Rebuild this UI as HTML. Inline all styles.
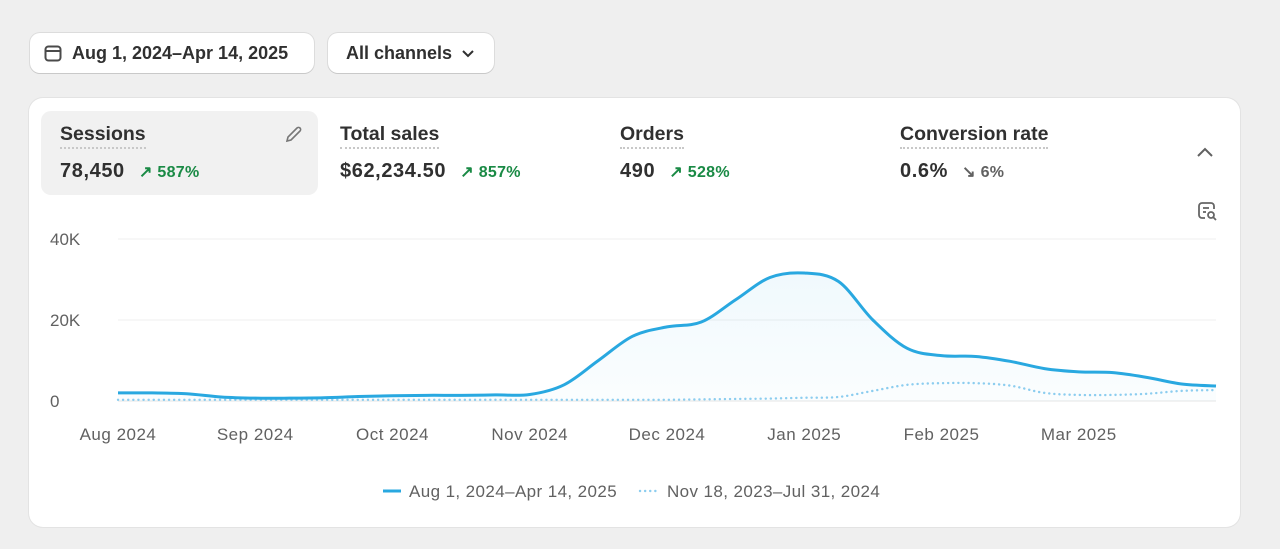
<!DOCTYPE html>
<html><head><meta charset="utf-8">
<style>
*{box-sizing:border-box;margin:0;padding:0}
body{width:1280px;height:549px;background:#efefef;font-family:"Liberation Sans",sans-serif;color:#303030;position:relative;overflow:hidden}
.btn{position:absolute;top:33px;height:40px;background:#fff;border-radius:10px;box-shadow:0 1px 0 #c9c9c9,0 0 0 1px #dcdcdc;font-size:18px;font-weight:bold;display:flex;align-items:center;color:#303030}
.card{position:absolute;left:29px;top:98px;width:1211px;height:429px;background:#fff;border-radius:14px;box-shadow:0 0 0 1px #e3e3e3}
.metric{position:absolute;top:13px;height:84px;width:277px;border-radius:10px;padding:12px 19px}
.metric.sel{background:#f1f1f1}
.mt{font-size:19.5px;font-weight:bold;color:#303030;display:inline-block;border-bottom:2px dotted #c8c8c8;padding-bottom:1px}
.mv{margin-top:11px;font-size:20px;font-weight:bold;color:#303030;letter-spacing:0.6px}
.up{color:#1a8a45;font-size:16px;font-weight:bold;margin-left:8px;letter-spacing:0.3px}
.dn{color:#616161;font-size:16px;font-weight:bold;margin-left:8px;letter-spacing:0.3px}
</style></head><body>
<div class="btn" style="left:30px;width:284px;padding-left:13px">
<svg width="20" height="20" viewBox="0 0 20 20" style="margin-right:9px"><rect x="2.5" y="3.5" width="15" height="14" rx="3" fill="none" stroke="#4a4a4a" stroke-width="2"/><line x1="2.5" y1="8" x2="17.5" y2="8" stroke="#4a4a4a" stroke-width="2"/></svg>
<span>Aug 1, 2024–Apr 14, 2025</span></div>
<div class="btn" style="left:328px;width:166px;padding-left:18px">
<span>All channels</span>
<svg width="14" height="10" viewBox="0 0 14 10" style="margin-left:9px"><path d="M2 3l5 5 5-5" fill="none" stroke="#303030" stroke-width="2"/></svg></div>

<div class="card">
<div class="metric sel" style="left:12px">
<div class="mt">Sessions</div>
<div class="mv">78,450 <span class="up">↗ 587%</span></div>
<svg width="22" height="22" viewBox="0 0 22 22" style="position:absolute;right:14px;top:13px"><path d="M5 17l1-4 9-9a2 2 0 013 3l-9 9z" fill="none" stroke="#777" stroke-width="1.6"/></svg>
</div>
<div class="metric" style="left:292px">
<div class="mt">Total sales</div>
<div class="mv">$62,234.50 <span class="up">↗ 857%</span></div></div>
<div class="metric" style="left:572px">
<div class="mt">Orders</div>
<div class="mv">490 <span class="up">↗ 528%</span></div></div>
<div class="metric" style="left:852px">
<div class="mt">Conversion rate</div>
<div class="mv">0.6% <span class="dn">↘ 6%</span></div></div>
<svg width="18" height="12" viewBox="0 0 18 12" style="position:absolute;left:1167px;top:49px"><path d="M2 9l7-7 7 7" fill="none" stroke="#616161" stroke-width="2"/></svg>
<svg width="22" height="22" viewBox="0 0 22 22" style="position:absolute;left:1167px;top:102px"><path d="M9 18H6a3 3 0 01-3-3V6a3 3 0 013-3h9a3 3 0 013 3v3" fill="none" stroke="#666" stroke-width="1.8"/><line x1="7" y1="8" x2="13" y2="8" stroke="#666" stroke-width="1.8"/><line x1="7" y1="12" x2="10" y2="12" stroke="#666" stroke-width="1.8"/><circle cx="15" cy="15" r="3" fill="none" stroke="#666" stroke-width="1.8"/><line x1="17" y1="17" x2="20" y2="20" stroke="#666" stroke-width="1.8"/></svg>
</div>

<svg id="chart" width="1280" height="549" style="position:absolute;left:0;top:0"></svg>
<script>
const yTicks=[0,20000,40000];
const yTickLabels=["0","20K","40K"];
const monthLabels=["Aug 2024","Sep 2024","Oct 2024","Nov 2024","Dec 2024","Jan 2025","Feb 2025","Mar 2025"];
const currentSeries=[2000,2000,1800,1000,700,700,800,1100,1300,1400,1400,1500,1600,4000,10000,16000,18300,19500,25000,30500,31600,29500,20000,13000,11200,11000,9800,8000,7200,7000,5800,4200,3700];
const previousSeries=[300,300,300,300,300,300,300,300,300,300,300,300,300,300,300,300,300,400,500,600,800,1000,2500,4000,4400,4400,3800,2000,1500,1500,1800,2500,2700];
const legendLabels=["Aug 1, 2024–Apr 14, 2025","Nov 18, 2023–Jul 31, 2024"];

const NS="http://www.w3.org/2000/svg";
const svg=document.getElementById('chart');
const X0=118,X1=1216,Y0=401,Y1=239,YMAX=40000;
const xs=i=>X0+i*(X1-X0)/(currentSeries.length-1);
const ys=v=>Y0-v/YMAX*(Y0-Y1);
function mk(t,a){const e=document.createElementNS(NS,t);for(const k in a)e.setAttribute(k,a[k]);svg.appendChild(e);return e;}
yTicks.forEach((v,i)=>{
 const l=mk('line',{x1:X0,x2:X1,y1:ys(v),y2:ys(v),stroke:i==0?'#e6e6e6':'#efefef','stroke-width':1});
 
 
 const t=mk('text',{x:50,y:ys(v)+6,'font-size':17,fill:'#616161','font-family':'Liberation Sans'});
 t.textContent=yTickLabels[i];
 
 
});
monthLabels.forEach((m,k)=>{
 const t=mk('text',{x:xs(k*4),y:440,'font-size':17,fill:'#616161','text-anchor':'middle','font-family':'Liberation Sans','letter-spacing':0.5});
 t.textContent=m;
 
 
});
function pathD(arr){
 const p=arr.map((v,i)=>[xs(i),ys(v)]);
 let d='M'+p[0][0]+','+p[0][1];
 for(let i=0;i<p.length-1;i++){
  const p0=p[Math.max(i-1,0)],p1=p[i],p2=p[i+1],p3=p[Math.min(i+2,p.length-1)];
  const c1=[p1[0]+(p2[0]-p0[0])/6,p1[1]+(p2[1]-p0[1])/6];
  const c2=[p2[0]-(p3[0]-p1[0])/6,p2[1]-(p3[1]-p1[1])/6];
  d+=' C'+c1+' '+c2+' '+p2;
 }
 return d;
}
const defs=mk('defs',{});
defs.innerHTML='<linearGradient id="g" x1="0" y1="0" x2="0" y2="1"><stop offset="0" stop-color="#29a8e0" stop-opacity="0.07"/><stop offset="1" stop-color="#29a8e0" stop-opacity="0.02"/></linearGradient>';
const area=mk('path',{d:pathD(currentSeries)+' L'+X1+','+Y0+' L'+X0+','+Y0+' Z',fill:'url(#g)'});


const prev=mk('path',{d:pathD(previousSeries),fill:'none',stroke:'#8ccdef','stroke-width':2.4,'stroke-dasharray':'0.1 5','stroke-linecap':'round'});


const cur=mk('path',{d:pathD(currentSeries),fill:'none',stroke:'#29a8e0','stroke-width':3});


// legend
const l1=mk('line',{x1:383,x2:401,y1:491,y2:491,stroke:'#29a8e0','stroke-width':3});


const t1=mk('text',{x:409,y:497,'font-size':17,fill:'#616161','font-family':'Liberation Sans','letter-spacing':0.4});
t1.textContent=legendLabels[0];


const l2=mk('line',{x1:640,x2:658,y1:491,y2:491,stroke:'#8ccdef','stroke-width':2.4,'stroke-dasharray':'0.1 5','stroke-linecap':'round'});


const t2=mk('text',{x:667,y:497,'font-size':17,fill:'#616161','font-family':'Liberation Sans','letter-spacing':0.4});
t2.textContent=legendLabels[1];


</script>
</body></html>
